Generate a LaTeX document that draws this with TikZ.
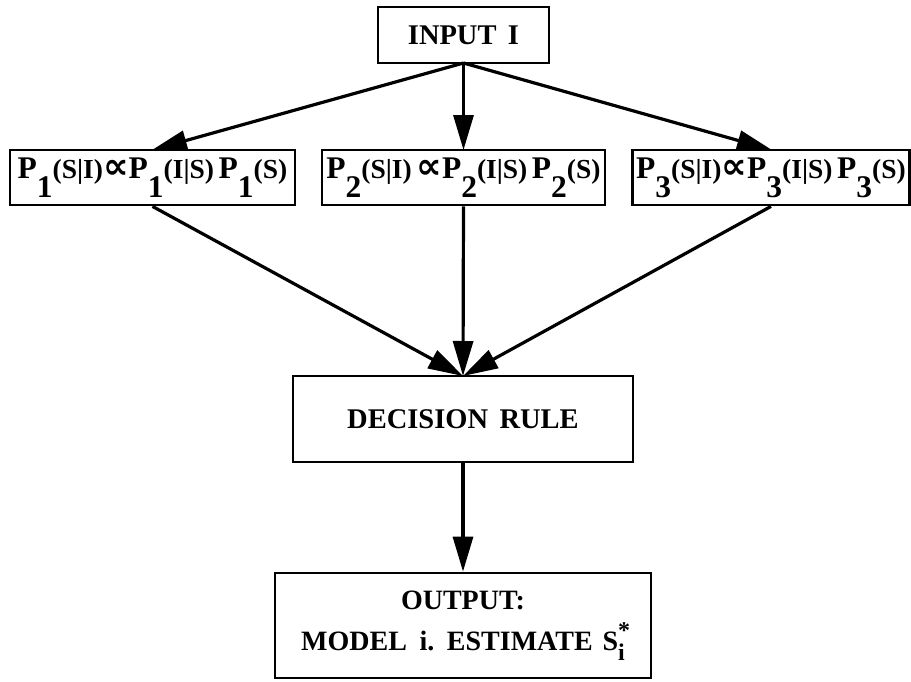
\documentclass[tikz,border=0pt]{standalone}
\usepackage{fontspec}
\setmainfont{Liberation Serif}
\newfontfamily\symfont{DejaVu Sans}
\usetikzlibrary{arrows.meta}
\newcommand{\BigP}[1]{{\fontsize{31.5}{31.5}\selectfont P\raisebox{-0.6em}{#1}}}
\newcommand{\SmT}[1]{{\fontsize{27.5}{27.5}\selectfont #1}}
\newcommand{\Prop}{\raisebox{0.0em}{\symfont\bfseries\fontsize{36}{36}\selectfont ∝}}
\tikzset{
  box/.style={draw, line width=2.8pt, rectangle, inner sep=0pt, font=\bfseries, align=center},
  conn/.style={line width=3.2pt, -{Triangle[length=35pt,width=20pt]}}
}
\begin{document}
\begin{tikzpicture}[x=1pt,y=-1pt]
\useasboundingbox (0,0) rectangle (911,681);
\node[box, minimum width=171pt, minimum height=56pt, font=\bfseries\fontsize{28.5}{28.5}\selectfont] (in) at (463.5,35) {INPUT\hspace{0.4em}I};
\node[box, minimum width=285pt, minimum height=55pt] (p1) at (152.5,177.5)
  {\BigP{1}\SmT{(S|I)}\Prop\BigP{1}\SmT{(I|S)\,}\BigP{1}\SmT{(S)}};
\node[box, minimum width=283pt, minimum height=55pt] (p2) at (463.5,177.5)
  {\BigP{2}\SmT{(S|I)\,}\Prop\BigP{2}\SmT{(I|S)\,}\BigP{2}\SmT{(S)}};
\node[box, minimum width=277pt, minimum height=55pt] (p3) at (771,177.5)
  {\BigP{3}\SmT{(S|I)}\Prop\BigP{3}\SmT{(I|S)\,}\BigP{3}\SmT{(S)}};
\node[box, minimum width=340pt, minimum height=86pt, font=\bfseries\fontsize{28.5}{28.5}\selectfont] (dec) at (463,419) {DECISION\hspace{0.4em}RULE};
\node[box, minimum width=376pt, minimum height=105pt, font=\bfseries\fontsize{28}{43}\selectfont] (out) at (463,625.5)
  {OUTPUT:\\[-2pt] MODEL\hspace{0.45em}i.\hspace{0.45em}ESTIMATE\hspace{0.35em}S\rlap{\raisebox{0.42em}{\fontsize{24}{24}\selectfont *}}\raisebox{-0.36em}{\fontsize{24}{24}\selectfont i}\hspace{0.35em}};
\coordinate (inb) at (463.5,63);
\coordinate (t1) at (152,150);
\coordinate (t2) at (463.5,150);
\coordinate (t3) at (772,150);
\coordinate (dt) at (463,376);
\draw[conn] (inb) -- (t1);
\draw[conn] (inb) -- (t2);
\draw[conn] (inb) -- (t3);
\draw[conn] (p1.south) -- (dt);
\draw[conn] (p2.south) -- (dt);
\draw[conn] (p3.south) -- (dt);
\draw[conn] (dec.south) -- (out.north);
\end{tikzpicture}
\end{document}
